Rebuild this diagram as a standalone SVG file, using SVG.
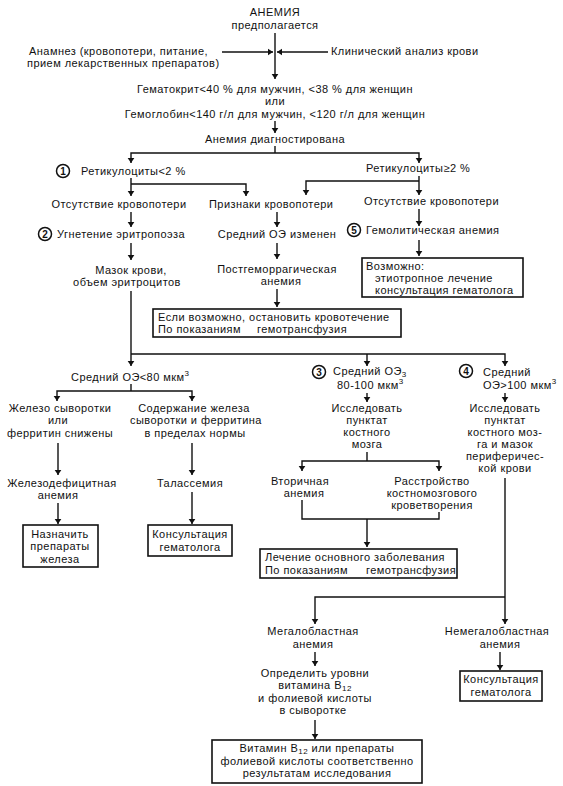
<svg xmlns="http://www.w3.org/2000/svg" width="563" height="786" viewBox="0 0 563 786">
<defs>
<marker id="ah" viewBox="0 0 6 8" refX="6" refY="4" markerWidth="5" markerHeight="8" markerUnits="userSpaceOnUse" orient="auto"><path d="M0,0 L6,4 L0,8 Z" fill="#111"/></marker>
</defs>
<style>
text{font-family:"Liberation Sans",Arial,sans-serif;font-size:11px;fill:#111;letter-spacing:0.45px}
.c{text-anchor:middle}
.ln{stroke:#111;stroke-width:1.4;fill:none}
.ar{marker-end:url(#ah)}
.box{fill:#fff;stroke:#111;stroke-width:1.6}
.num circle{fill:#fff;stroke:#111;stroke-width:1.5}
.num text{font-weight:bold;font-size:10px;text-anchor:middle;letter-spacing:0}
.s{font-size:8px}
</style>
<rect width="563" height="786" fill="#fff"/>
<g id="connectors">
<path class="ln ar" d="M275,33 V79"/>
<path class="ln ar" d="M222,52 H273"/>
<path class="ln ar" d="M328,52 H277"/>
<path class="ln ar" d="M275,121 V133"/>
<path class="ln" d="M275,146 V153"/>
<path class="ln ar" d="M275,153 H131 V163"/>
<path class="ln ar" d="M275,153 H419 V163"/>
<path class="ln ar" d="M131,178 V196"/>
<path class="ln ar" d="M131,184 H246 V196"/>
<path class="ln ar" d="M419,176 V195"/>
<path class="ln ar" d="M419,181 H306 V195"/>
<path class="ln ar" d="M131,212 V227"/>
<path class="ln ar" d="M131,243 V260"/>
<path class="ln ar" d="M131,291 V366"/>
<path class="ln ar" d="M277,212 V227"/>
<path class="ln ar" d="M277,243 V259"/>
<path class="ln ar" d="M277,289 V307"/>
<path class="ln ar" d="M419,209 V226"/>
<path class="ln ar" d="M419,240 V256"/>
<path class="ln ar" d="M131,354 H505 V366"/>
<path class="ln ar" d="M367,354 V366"/>
<path class="ln" d="M131,384 V391"/>
<path class="ln ar" d="M131,391 H57 V401"/>
<path class="ln ar" d="M131,391 H192 V401"/>
<path class="ln ar" d="M58,443 V475"/>
<path class="ln ar" d="M192,443 V475"/>
<path class="ln ar" d="M58,503 V524"/>
<path class="ln ar" d="M192,492 V524"/>
<path class="ln ar" d="M367,393 V402"/>
<path class="ln" d="M367,452 V461"/>
<path class="ln ar" d="M367,461 H302 V471"/>
<path class="ln ar" d="M367,461 H439 V471"/>
<path class="ln" d="M302,500 V519 H439 V512"/>
<path class="ln ar" d="M367,519 V547"/>
<path class="ln ar" d="M505,393 V402"/>
<path class="ln ar" d="M505,478 V624"/>
<path class="ln ar" d="M505,597 H315 V624"/>
<path class="ln ar" d="M315,652 V666"/>
<path class="ln ar" d="M315,720 V739"/>
<path class="ln ar" d="M500,652 V670"/>
</g>
<g id="n-start"><text class="c" x="275" y="16">АНЕМИЯ</text><text class="c" x="275" y="29">предполагается</text></g>
<g id="n-anamnez"><text x="29" y="55">Анамнез (кровопотери, питание,</text><text x="27" y="67">прием лекарственных препаратов)</text></g>
<g id="n-clin"><text x="331" y="55">Клинический анализ крови</text></g>
<g id="n-criteria"><text class="c" x="275" y="93">Гематокрит&lt;40 % для мужчин, &lt;38 % для женщин</text><text class="c" x="275" y="105">или</text><text class="c" x="275" y="118">Гемоглобин&lt;140 г/л для мужчин, &lt;120 г/л для женщин</text></g>
<g id="n-diag"><text class="c" x="275" y="143">Анемия диагностирована</text></g>
<g id="n-ret-low"><g class="num"><circle cx="63" cy="171" r="6.5"/><text x="63" y="174.5">1</text></g><text x="81" y="175">Ретикулоциты&lt;2 %</text></g>
<g id="n-ret-high"><text x="366" y="172">Ретикулоциты≥2 %</text></g>
<g id="n-noloss1"><text class="c" x="119" y="208">Отсутствие кровопотери</text></g>
<g id="n-loss"><text x="209" y="208">Признаки кровопотери</text></g>
<g id="n-noloss2"><text x="364" y="205">Отсутствие кровопотери</text></g>
<g id="n-depr"><g class="num"><circle cx="45" cy="234" r="6.5"/><text x="45" y="237.5">2</text></g><text x="57" y="238">Угнетение эритропоэза</text></g>
<g id="n-mcv-chg"><text class="c" x="277" y="238">Средний ОЭ изменен</text></g>
<g id="n-hemol"><g class="num"><circle cx="354" cy="230" r="6.5"/><text x="354" y="233.5">5</text></g><text x="366" y="234">Гемолитическая анемия</text></g>
<g id="n-smear"><text class="c" x="131" y="274">Мазок крови,</text><text class="c" x="127" y="286">объем эритроцитов</text></g>
<g id="n-posthem"><text class="c" x="277" y="273">Постгеморрагическая</text><text class="c" x="281" y="285">анемия</text></g>
<g id="n-possible"><rect class="box" x="362" y="258" width="161" height="39"/><text x="366" y="270">Возможно:</text><text x="375" y="282">этиотропное лечение</text><text x="375" y="294">консультация гематолога</text></g>
<g id="n-stop"><rect class="box" x="153" y="309" width="248" height="28"/><text x="158" y="321">Если возможно, остановить кровотечение</text><text x="158" y="333">По показаниям</text><text x="257" y="333">гемотрансфузия</text></g>
<g id="n-mcv80"><text x="71" y="381">Средний ОЭ&lt;80 мкм<tspan class="s" dy="-5">3</tspan></text></g>
<g id="n-mcv80100"><g class="num"><circle cx="319" cy="372" r="6.5"/><text x="319" y="375.5">3</text></g><text x="333" y="375">Средний ОЭ<tspan class="s" dy="2">3</tspan></text><text x="337" y="389">80-100 мкм<tspan class="s" dy="-5">3</tspan></text></g>
<g id="n-mcv100"><g class="num"><circle cx="466" cy="371" r="6.5"/><text x="466" y="374.5">4</text></g><text x="483" y="376">Средний</text><text x="483" y="389">ОЭ&gt;100 мкм<tspan class="s" dy="-5">3</tspan></text></g>
<g id="n-fe-low"><text class="c" x="60" y="412">Железо сыворотки</text><text class="c" x="58" y="424">или</text><text class="c" x="60" y="437">ферритин снижены</text></g>
<g id="n-fe-norm"><text class="c" x="194" y="412">Содержание железа</text><text class="c" x="196" y="424">сыворотки и ферритина</text><text class="c" x="195" y="437">в пределах нормы</text></g>
<g id="n-marrow1"><text class="c" x="367" y="412">Исследовать</text><text class="c" x="367" y="424">пунктат</text><text class="c" x="367" y="436">костного</text><text class="c" x="367" y="448">мозга</text></g>
<g id="n-marrow2"><text class="c" x="505" y="412">Исследовать</text><text class="c" x="505" y="424">пунктат</text><text class="c" x="505" y="436">костного моз-</text><text class="c" x="505" y="448">га и мазок</text><text class="c" x="505" y="460">периферичес-</text><text class="c" x="505" y="472">кой крови</text></g>
<g id="n-secondary"><text class="c" x="300" y="485">Вторичная</text><text class="c" x="304" y="497">анемия</text></g>
<g id="n-disorder"><text class="c" x="432" y="485">Расстройство</text><text class="c" x="432" y="497">костномозгового</text><text class="c" x="432" y="509">кроветворения</text></g>
<g id="n-ida"><text class="c" x="62" y="487">Железодефицитная</text><text class="c" x="58" y="499">анемия</text></g>
<g id="n-thal"><text class="c" x="190" y="487">Талассемия</text></g>
<g id="n-iron"><rect class="box" x="23" y="525" width="75" height="42"/><text class="c" x="60" y="538">Назначить</text><text class="c" x="60" y="550">препараты</text><text class="c" x="60" y="563">железа</text></g>
<g id="n-cons1"><rect class="box" x="148" y="525" width="84" height="31"/><text class="c" x="190" y="538">Консультация</text><text class="c" x="190" y="551">гематолога</text></g>
<g id="n-treat"><rect class="box" x="260" y="549" width="197" height="29"/><text x="265" y="561">Лечение основного заболевания</text><text x="265" y="574">По показаниям</text><text x="366" y="574">гемотрансфузия</text></g>
<g id="n-megalo"><text class="c" x="313" y="635">Мегалобластная</text><text class="c" x="313" y="648">анемия</text></g>
<g id="n-nonmegalo"><text class="c" x="497" y="635">Немегалобластная</text><text class="c" x="500" y="648">анемия</text></g>
<g id="n-levels"><text class="c" x="315" y="677">Определить уровни</text><text class="c" x="315" y="689">витамина B<tspan class="s" dy="2">12</tspan></text><text class="c" x="315" y="702">и фолиевой кислоты</text><text class="c" x="313" y="714">в сыворотке</text></g>
<g id="n-cons2"><rect class="box" x="460" y="671" width="82" height="30"/><text class="c" x="501" y="683">Консультация</text><text class="c" x="501" y="696">гематолога</text></g>
<g id="n-vit"><rect class="box" x="212" y="740" width="210" height="43"/><text class="c" x="317" y="752">Витамин B<tspan class="s" dy="2">12</tspan><tspan dy="-2"> или препараты</tspan></text><text class="c" x="317" y="765">фолиевой кислоты соответственно</text><text class="c" x="317" y="777">результатам исследования</text></g>
</svg>
